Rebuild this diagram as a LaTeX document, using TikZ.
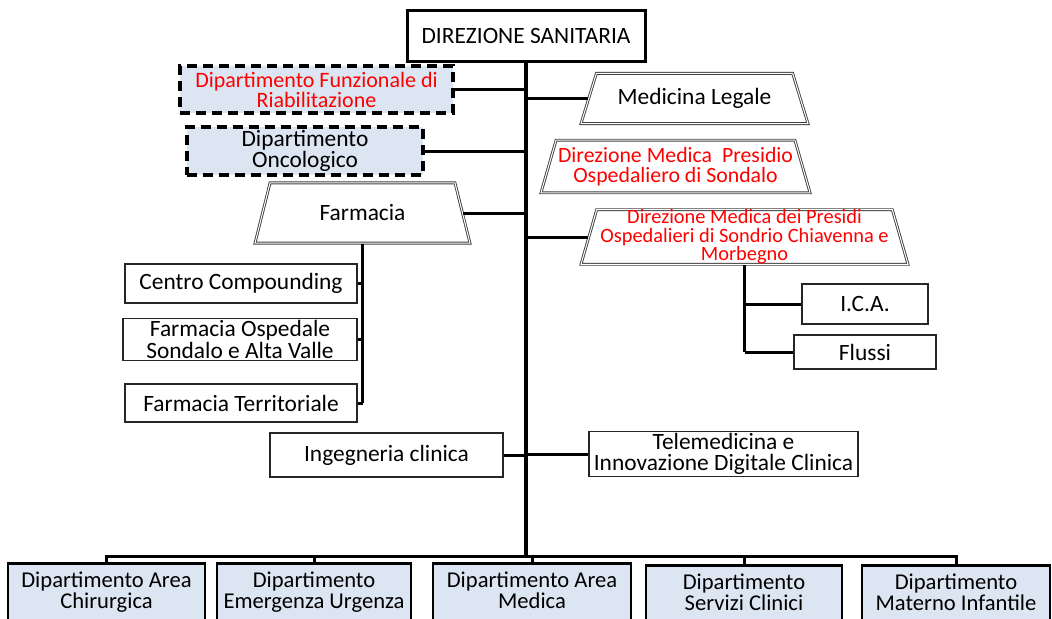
\documentclass[tikz,border=0pt]{standalone}
\usepackage{fontspec}
\setmainfont{Carlito}
\usetikzlibrary{shapes.geometric,positioning}

\definecolor{deptblue}{HTML}{DCE6F2}

\tikzset{
	testo/.style={font=\fontsize{11.7}{10.6}\selectfont},
	capo/.style={draw, line width=1.5pt, align=center, testo},
	ufficio/.style={draw=black!85, line width=0.7pt, align=center, inner sep=1pt, testo},
	dipfunz/.style={draw, line width=1.6pt, dash pattern=on 5pt off 3pt, fill=deptblue, align=center, inner sep=1pt},
	trapez/.style={trapezium, trapezium stretches body, draw=black!75, double=white, double distance=0.5pt, line width=0.45pt, align=center, inner xsep=1pt},
	dipart/.style={draw, line width=1.4pt, fill=deptblue, align=center, anchor=north, inner xsep=1pt, inner ysep=4pt, text depth=20pt, font=\fontsize{11.3}{10.5}\selectfont},
	tronco/.style={line width=2pt},
	ramo/.style={line width=1.5pt},
}

\begin{document}
\begin{tikzpicture}[x=0.5pt,y=-0.5pt]
	\useasboundingbox (0,0) rectangle (1052,618);

	% vertice
	\node[capo, minimum width=119pt, minimum height=25.5pt] (ds) at (526,35.5) {DIREZIONE SANITARIA};
	\coordinate (hub) at (526,556);

	% staff a sinistra
	\node[dipfunz, text=red, font=\fontsize{11}{10}\selectfont, minimum width=136.5pt, minimum height=23.5pt] (riab) at (316.5,89.5) {Dipartimento Funzionale di\\Riabilitazione};
	\node[dipfunz, testo, minimum width=118pt, minimum height=24pt] (onco) at (305,151) {Dipartimento\\Oncologico};
	\node[trapez, testo, inner ysep=11pt, trapezium left angle=76, trapezium right angle=76, minimum width=107.5pt] (farm) at (362.5,213) {Farmacia};

	\node[ufficio, minimum width=116pt, minimum height=19.5pt] (ccomp) at (241,283.5) {Centro Compounding};
	\node[ufficio, minimum width=117pt, minimum height=19.5pt] (fosp) at (240,339.5) {Farmacia Ospedale\\Sondalo e Alta Valle};
	\node[ufficio, minimum width=116pt, minimum height=19pt] (fterr) at (241,403) {Farmacia Territoriale};

	% staff a destra
	\node[trapez, testo, inner ysep=7.5pt, trapezium left angle=73, trapezium right angle=73, minimum width=113.5pt] (mleg) at (694.5,98.5) {Medicina Legale};
	\node[trapez, text=red, font=\fontsize{10.9}{10}\selectfont, inner ysep=3.5pt, trapezium left angle=74, trapezium right angle=74, minimum width=134.5pt] (sond) at (675.5,166.5) {Direzione Medica~ Presidio\\Ospedaliero di Sondalo};
	\node[trapez, text=red, font=\fontsize{10.2}{9.25}\selectfont, inner sep=0pt, trapezium left angle=74, trapezium right angle=74, minimum width=163.5pt] (pres) at (744.5,237) {Direzione Medica dei Presidi\\Ospedalieri di Sondrio Chiavenna e\\Morbegno};

	\node[ufficio, minimum width=63pt, minimum height=20pt] (ica) at (865,304) {I.C.A.};
	\node[ufficio, minimum width=71pt, minimum height=17pt] (fluss) at (865,352) {Flussi};

	\node[ufficio, minimum width=116.5pt, minimum height=22pt] (ing) at (386.5,455) {Ingegneria clinica};
	\node[ufficio, minimum width=134.5pt, minimum height=22pt] (tele) at (723.5,454) {Telemedicina e\\Innovazione Digitale Clinica};

	% dipartimenti
	\node[dipart, minimum width=98.5pt] (chir) at (106.5,562) {Dipartimento Area\\Chirurgica};
	\node[dipart, minimum width=97pt] (emer) at (314,562) {Dipartimento\\Emergenza Urgenza};
	\node[dipart, minimum width=99pt] (amed) at (532,562) {Dipartimento Area\\Medica};
	\node[dipart, minimum width=98pt] (serv) at (744,564) {Dipartimento\\Servizi Clinici};
	\node[dipart, minimum width=94pt] (mate) at (956,564) {Dipartimento\\Materno Infantile};

	% collegamenti
	\draw[tronco] (ds.south) -- (hub);
	\draw[ramo] (riab.east) -- (riab.east -| ds.south);
	\draw[ramo] (onco.east) -- (onco.east -| ds.south);
	\draw[ramo] (farm.east) -- (farm.east -| ds.south);
	\draw[ramo] (ds.south |- mleg.west) -- (mleg.west);
	\draw[ramo] (ds.south |- pres.west) -- (pres.west);
	\draw[ramo] (ing.east) -- (ing.east -| ds.south);
	\draw[ramo] (ds.south |- tele.west) -- (tele.west);

	\draw[ramo] (farm.south) -- (farm.south |- fterr.east);
	\draw[ramo] (ccomp.east) -- (ccomp.east -| farm.south);
	\draw[ramo] (fosp.east) -- (fosp.east -| farm.south);
	\draw[ramo] (fterr.east) -- (fterr.east -| farm.south);

	\draw[ramo] (pres.south) -- (pres.south |- fluss.west);
	\draw[ramo] (ica.west) -- (ica.west -| pres.south);
	\draw[ramo] (fluss.west) -- (fluss.west -| pres.south);

	\draw[ramo] (chir.north) |- (hub) -| (mate.north);
	\draw[ramo] (emer.north) -- (emer.north |- hub);
	\draw[ramo] (amed.north) -- (amed.north |- hub);
	\draw[ramo] (serv.north) -- (serv.north |- hub);
\end{tikzpicture}
\end{document}
